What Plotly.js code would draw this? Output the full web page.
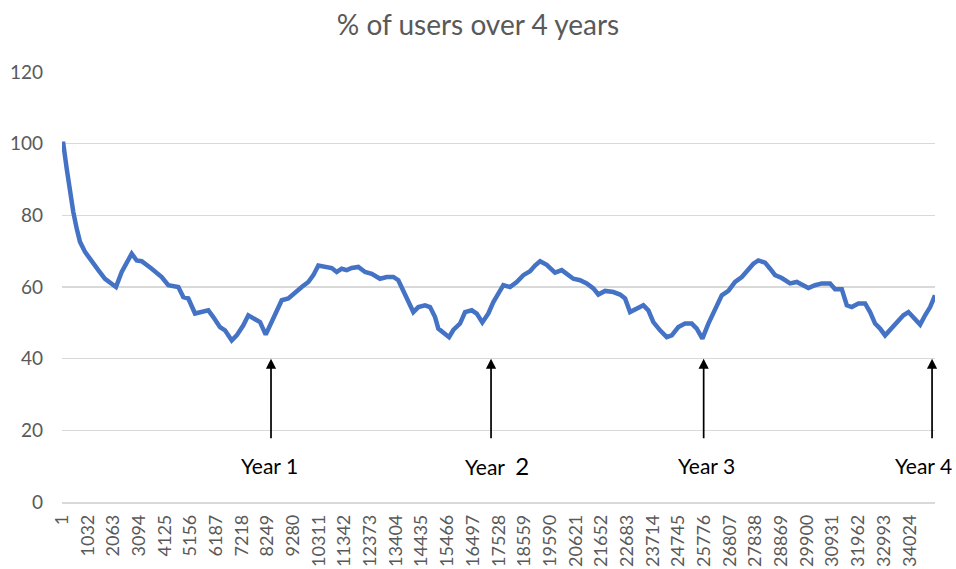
<!DOCTYPE html>
<html>
<head>
<meta charset="utf-8">
<script src="https://cdn.plot.ly/plotly-3.0.1.min.js"></script>
<style>
  html, body { margin: 0; padding: 0; background: #ffffff; }
  #chart { width: 956px; height: 569px; }
</style>
</head>
<body>
<div id="chart"></div>
<script>
// Hour index (x) and % of users (y)
const hourIdx = [1, 53, 190, 322, 455, 591, 724, 924, 1193, 1458, 1727, 1996, 2168, 2397, 2598, 2799, 2999, 3200,
  3602, 4003, 4268, 4669, 4870, 5071, 5340, 5608, 5873, 6074, 6343, 6544, 6813, 7014, 7278, 7479, 7748, 7949,
  8178, 8419, 8632, 8820, 9085, 9354, 9623, 9888, 10089, 10289, 10558, 10827, 11028, 11228, 11429, 11630, 11895,
  12164, 12433, 12766, 13035, 13300, 13500, 13701, 13902, 14103, 14303, 14572, 14773, 14974, 15106, 15307, 15536,
  15708, 15977, 16178, 16447, 16648, 16872, 17113, 17314, 17502, 17715, 17983, 18252, 18517, 18786, 18987, 19188,
  19456, 19790, 20058, 20259, 20524, 20793, 21062, 21327, 21528, 21797, 22130, 22399, 22600, 22801, 23069, 23334,
  23535, 23736, 24005, 24274, 24474, 24739, 25008, 25277, 25478, 25703, 25944, 26173, 26482, 26747, 27016, 27285,
  27550, 27751, 27951, 28220, 28421, 28622, 28890, 29224, 29493, 29694, 29958, 30227, 30496, 30829, 31030, 31299,
  31500, 31700, 31965, 32234, 32434, 32635, 32836, 33037, 33238, 33507, 33772, 33973, 34174, 34443, 34643, 34844, 35040];
const pctUsers = [100, 100, 93, 86.5, 80.9, 76.3, 72.6, 69.8, 67, 64.7, 62.3, 61, 60, 64.2, 66.5, 69.3, 67.4, 67.2,
  65.1, 62.8, 60.5, 60, 57.2, 56.8, 52.6, 53, 53.5, 51.6, 48.8, 47.9, 45.1, 46.5, 49.3, 52.1, 51.2, 50.2,
  46.7, 50.2, 53.5, 56.3, 56.8, 58.6, 60, 61.4, 63.3, 66, 65.6, 65.3, 64.2, 65.1, 64.7, 65.3, 65.6,
  64.2, 63.7, 62.3, 62.8, 62.8, 61.9, 59.1, 56.3, 53, 54.4, 54.9, 54.4, 51.6, 48.4, 47.4, 46,
  48, 49.8, 53, 53.5, 52.6, 50.1, 52.6, 55.8, 58, 60.5, 60, 61.4, 63.3, 64.4, 66, 67.2,
  66.2, 64, 64.7, 63.7, 62.3, 61.9, 61, 59.6, 57.9, 58.9, 58.6, 57.9, 56.8, 53, 54, 54.9,
  53.5, 50.2, 47.9, 46, 46.5, 48.8, 49.8, 49.8, 48.4, 45.6, 49.8, 53.5, 57.7, 58.9, 61.4, 62.8,
  64.7, 66.5, 67.4, 66.8, 65.1, 63.3, 62.5, 61, 61.4, 60.7, 59.7, 60.5, 61, 61, 59.4, 59.4,
  54.9, 54.4, 55.4, 55.4, 53, 49.8, 48.4, 46.5, 48, 49.8, 52.1, 53, 51.4, 49.5, 52.1, 54.4, 57.7];

// Category tick labels of the x axis
const tickLabels = ["1", "1032", "2063", "3094", "4125", "5156", "6187", "7218", "8249", "9280", "10311",
  "11342", "12373", "13404", "14435", "15466", "16497", "17528", "18559", "19590", "20621", "21652",
  "22683", "23714", "24745", "25776", "26807", "27838", "28869", "29900", "30931", "31962", "32993", "34024"];

// Year markers
const yearLabels = ["Year 1", "Year&nbsp; <span style='font-size:24px'>2</span>", "Year 3", "Year 4"];
const yearArrowX = [8390, 17221, 25755, 34922];
const yearTextX = [8330, 17480, 25870, 34560];
const yearArrowY = 40;

const FONT = "Lato, 'Open Sans', Arial, sans-serif";
const GRID = "#d9d9d9";
const GREY = "#595959";

const trace = {
  type: "scatter",
  mode: "lines",
  x: hourIdx,
  y: pctUsers,
  line: { color: "#4472C4", width: 4.5 },
  hoverinfo: "skip"
};

const annotations = [];
for (let i = 0; i < yearArrowX.length; i++) {
  annotations.push({
    x: yearArrowX[i], y: yearArrowY, xref: "x", yref: "y",
    text: "", showarrow: true, arrowhead: 2, arrowsize: 1.2, arrowwidth: 1.7,
    arrowcolor: "#000000", ax: 0, ay: 81, standoff: 0
  });
  annotations.push({
    x: yearTextX[i], y: 0, xref: "x", yref: "y", yshift: 37,
    text: yearLabels[i], showarrow: false,
    font: { family: FONT, size: 21, color: "#000000" },
    xanchor: "center", yanchor: "middle"
  });
}

const layout = {
  width: 956,
  height: 569,
  margin: { l: 62, r: 21, t: 72, b: 67, pad: 0 },
  paper_bgcolor: "#ffffff",
  plot_bgcolor: "#ffffff",
  showlegend: false,
  title: {
    text: "% of users over 4 years",
    font: { family: FONT, size: 28, color: GREY },
    x: 0.5, xanchor: "center", y: 0.955, yanchor: "middle"
  },
  xaxis: {
    range: [1, 35040],
    tickmode: "array",
    tickvals: tickLabels.map(Number),
    ticktext: tickLabels,
    tickangle: -90,
    showgrid: false,
    zeroline: false,
    showline: true,
    linecolor: GRID,
    linewidth: 1.5,
    ticks: "",
    ticklabelstandoff: 4,
    tickfont: { family: FONT, size: 18, color: GREY }
  },
  yaxis: {
    range: [0, 120],
    dtick: 20,
    tick0: 0,
    showgrid: true,
    gridcolor: GRID,
    gridwidth: 1.5,
    zeroline: false,
    showline: false,
    ticks: "",
    ticklabelstandoff: 18,
    tickfont: { family: FONT, size: 19, color: GREY }
  },
  annotations: annotations
};

Plotly.newPlot("chart", [trace], layout, { displayModeBar: false, staticPlot: true });
</script>
</body>
</html>
